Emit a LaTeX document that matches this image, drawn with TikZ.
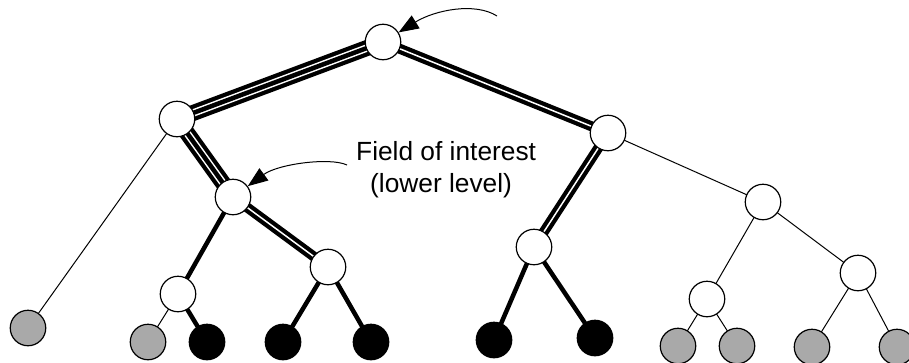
\documentclass[tikz,border=0pt]{standalone}
\usepackage{fontspec}
\setmainfont{Liberation Sans}
\usetikzlibrary{arrows.meta,backgrounds}
\definecolor{leafgrey}{RGB}{169,169,169}
\begin{document}
\begin{tikzpicture}[x=1pt,y=1pt,
  vtx/.style={circle,draw=black,line width=1.2pt,minimum size=35.5pt,inner sep=0pt},
  open/.style={vtx,fill=white},
  grey/.style={vtx,fill=leafgrey},
  dark/.style={vtx,fill=black},
  thin/.style={draw=black,line width=1pt},
  thick/.style={draw=black,line width=4.5pt},
  dbl/.style={draw=black,line width=10pt,postaction={draw=white,line width=1.5pt}},
  tri/.style={draw=black,line width=16pt,
    postaction={draw=white,line width=7.5pt},
    postaction={draw=black,line width=4.5pt}},
  pointer/.style={draw=black,line width=1pt,-{Triangle[length=20pt,width=15pt]}},
  label/.style={font=\fontsize{26.3}{32}\selectfont,inner sep=0pt,anchor=base west}
]
\useasboundingbox (0,0) rectangle (909,-362);

% tree vertices
\node[open] (root) at (383,-42) {};
\node[open] (L1)   at (177,-119) {};
\node[open] (R1)   at (608,-133) {};
\node[open] (L2)   at (233,-197) {};
\node[open] (LL)   at (178,-294) {};
\node[open] (LR)   at (328,-267) {};
\node[open] (R2)   at (534,-247) {};
\node[open] (RR)   at (763,-202) {};
\node[open] (RRL)  at (707,-299) {};
\node[open] (RRR)  at (858,-273) {};

% leaves
\node[grey] (G0)   at (28,-328) {};
\node[grey] (LLa)  at (148,-342) {};
\node[dark] (LLb)  at (207,-342) {};
\node[dark] (LRa)  at (283,-342) {};
\node[dark] (LRb)  at (371,-342) {};
\node[dark] (R2a)  at (494,-340) {};
\node[dark] (R2b)  at (595,-338) {};
\node[grey] (RRLa) at (678,-346) {};
\node[grey] (RRLb) at (737,-346) {};
\node[grey] (RRRa) at (812,-347) {};
\node[grey] (RRRb) at (897,-347) {};

% edges, drawn centre to centre behind the vertices
\begin{pgfonlayer}{background}
  \path[tri]   (root.center) -- (L1.center);
  \path[dbl]   (root.center) -- (R1.center);
  \path[tri]   (L1.center) -- (L2.center);
  \path[thin]  (L1.center) -- (G0.center);
  \path[thick] (L2.center) -- (LL.center);
  \path[dbl]   (L2.center) -- (LR.center);
  \path[thin]  (LL.center) -- (LLa.center);
  \path[thick] (LL.center) -- (LLb.center);
  \path[thick] (LR.center) -- (LRa.center);
  \path[thick] (LR.center) -- (LRb.center);
  \path[dbl]   (R1.center) -- (R2.center);
  \path[thin]  (R1.center) -- (RR.center);
  \path[thick] (R2.center) -- (R2a.center);
  \path[thick] (R2.center) -- (R2b.center);
  \path[thin]  (RR.center) -- (RRL.center);
  \path[thin]  (RR.center) -- (RRR.center);
  \path[thin]  (RRL.center) -- (RRLa.center);
  \path[thin]  (RRL.center) -- (RRLb.center);
  \path[thin]  (RRR.center) -- (RRRa.center);
  \path[thin]  (RRR.center) -- (RRRb.center);
\end{pgfonlayer}

% annotation
\node[label] (lbltop) at (356,-160) {Field of interest};
\node[label] (lblbot) at (370,-192) {(lower level)};

\coordinate (p1) at (497,-16);
\coordinate (p2) at (347,-165);
\draw[pointer] (p1) .. controls (475,-2) and (435,-10) .. (root);
\draw[pointer] (p2) .. controls (330,-157) and (278,-164) .. (L2);
\end{tikzpicture}
\end{document}
